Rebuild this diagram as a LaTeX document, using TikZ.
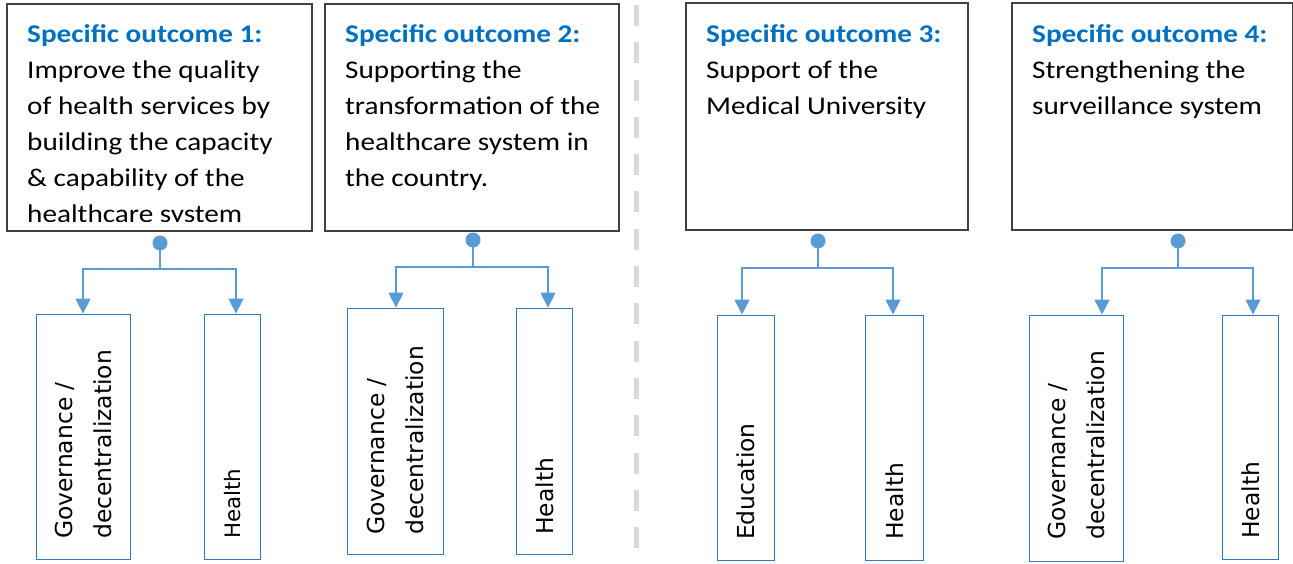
\documentclass[tikz,border=0pt]{standalone}
\usepackage{fontspec}
\setmainfont{Carlito}[FakeStretch=1.145]
\newfontfamily\dejavu{DejaVu Sans}
\usetikzlibrary{arrows.meta,calc}
\definecolor{titleblue}{HTML}{0070C0}
\definecolor{linkblue}{HTML}{5B9BD5}
\definecolor{boxblue}{HTML}{2E7BC4}
\definecolor{framegray}{HTML}{404040}
\definecolor{divgray}{HTML}{D9D9D9}
\tikzset{
 outcomebox/.style={draw=framegray, line width=1.8pt, inner sep=0pt, anchor=south west},
 sectorbox/.style={draw=boxblue, line width=1.4pt, inner sep=0pt, anchor=south west},
 outtext/.style={anchor=north west, inner sep=0pt, align=left, font=\fontsize{25.5}{36}\selectfont},
 sectortext/.style={rotate=90, anchor=west, inner sep=0pt, align=left, font=\dejavu\fontsize{23.4}{39}\selectfont},
 link/.style={draw=linkblue, line width=1.4pt},
 arr/.style={link, -{Triangle[length=15pt,width=15pt]}},
 dot/.style={circle, fill=linkblue, inner sep=0pt, minimum size=15pt},
}
\newcommand{\ttl}[1]{{\bfseries\color{titleblue}#1}}
\begin{document}
\begin{tikzpicture}[x=1pt,y=1pt]
\useasboundingbox (0,0) rectangle (1293,563);
% divider
\draw[divgray, line width=5pt, dash pattern=on 21pt off 16.3pt] (636,558) -- (636,14);

% outcome boxes
\node[outcomebox, minimum width=305pt, minimum height=227pt] (o1) at (6,331) {};
\node[outcomebox, minimum width=294pt, minimum height=227pt] (o2) at (324,331) {};
\node[outcomebox, minimum width=282pt, minimum height=227pt] (o3) at (685,332) {};
\node[outcomebox, minimum width=281pt, minimum height=227pt] (o4) at (1011,332) {};

\begin{scope}
\clip (6,341.5) rectangle (311,558);
\node[outtext] (t1) at ($(o1.north west)+(21,-14.3)$) {\strut\ttl{Specific outcome 1:}\\Improve the quality\\of health services by\\building the capacity\\\& capability of the\\healthcare system};
\end{scope}
\node[outtext] (t2) at ($(o2.north west)+(21,-14.3)$) {\strut\ttl{Specific outcome 2:}\\Supporting the\\transformation of the\\healthcare system in\\the country.};
\node[outtext] (t3) at ($(o3.north west)+(21,-15.3)$) {\strut\ttl{Specific outcome 3:}\\Support of the\\Medical University};
\node[outtext] (t4) at ($(o4.north west)+(21,-15.3)$) {\strut\ttl{Specific outcome 4:}\\Strengthening the\\surveillance system};

% sector boxes
\node[sectorbox, minimum width=94pt, minimum height=245pt] (g1) at (36,3) {};
\node[sectorbox, minimum width=56pt, minimum height=245pt] (h1) at (204,3) {};
\node[sectorbox, minimum width=96pt, minimum height=246pt] (g2) at (347,8) {};
\node[sectorbox, minimum width=56pt, minimum height=246pt] (h2) at (516,8) {};
\node[sectorbox, minimum width=57pt, minimum height=245pt] (e3) at (717,2) {};
\node[sectorbox, minimum width=58pt, minimum height=245pt] (h3) at (865,2) {};
\node[sectorbox, minimum width=94pt, minimum height=246pt] (g4) at (1029,1) {};
\node[sectorbox, minimum width=56pt, minimum height=244pt] (h4) at (1222,3) {};

\node[sectortext] (g1t) at ($(g1.south)+(0,21)$) {Governance /\\decentralization};
\node[sectortext, font=\dejavu\fontsize{21.3}{26}\selectfont] (h1t) at ($(h1.south)+(0,21)$) {Health};
\node[sectortext] (g2t) at ($(g2.south)+(0,20)$) {Governance /\\decentralization};
\node[sectortext] (h2t) at ($(h2.south)+(0,20)$) {Health};
\node[sectortext] (e3t) at ($(e3.south)+(0,21)$) {Education};
\node[sectortext] (h3t) at ($(h3.south)+(0,21)$) {Health};
\node[sectortext] (g4t) at ($(g4.south)+(0,22)$) {Governance /\\decentralization};
\node[sectortext] (h4t) at ($(h4.south)+(0,21)$) {Health};

% connectors
\node[dot] (d1) at (160,320) {};
\node[dot] (d2) at (473,323) {};
\node[dot] (d3) at (818,322) {};
\node[dot] (d4) at (1178,322) {};

\coordinate (j1) at (160,294); \coordinate (l1) at (83,294); \coordinate (r1) at (236,294);
\coordinate (j2) at (473,296); \coordinate (l2) at (396,296); \coordinate (r2) at (548,296);
\coordinate (j3) at (818,295); \coordinate (l3) at (742,295); \coordinate (r3) at (893,295);
\coordinate (j4) at (1178,295); \coordinate (l4) at (1102,295); \coordinate (r4) at (1253,295);

\draw[link] (d1.center) -- (j1);
\draw[arr] (j1) -- (l1) -- (l1 |- g1.north);
\draw[arr] (j1) -- (r1) -- (r1 |- h1.north);
\draw[link] (d2.center) -- (j2);
\draw[arr] (j2) -- (l2) -- (l2 |- g2.north);
\draw[arr] (j2) -- (r2) -- (r2 |- h2.north);
\draw[link] (d3.center) -- (j3);
\draw[arr] (j3) -- (l3) -- (l3 |- e3.north);
\draw[arr] (j3) -- (r3) -- (r3 |- h3.north);
\draw[link] (d4.center) -- (j4);
\draw[arr] (j4) -- (l4) -- (l4 |- g4.north);
\draw[arr] (j4) -- (r4) -- (r4 |- h4.north);
\end{tikzpicture}
\end{document}
